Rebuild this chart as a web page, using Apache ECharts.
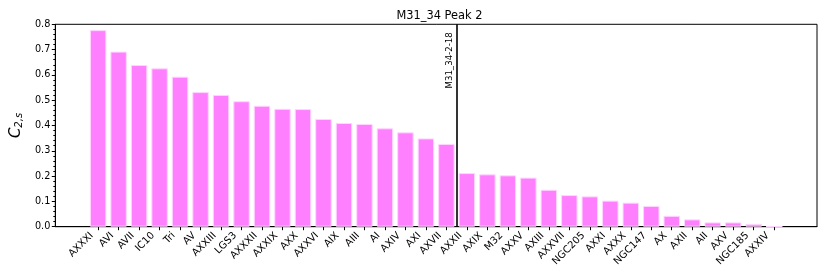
<!DOCTYPE html>
<html>
<head>
<meta charset="utf-8">
<script src="https://cdn.jsdelivr.net/npm/echarts@6/dist/echarts.min.js"></script>
<style>html,body{margin:0;padding:0;background:#fff}#c{width:830px;height:277px}</style>
</head>
<body>
<div id="c"></div>
<script>
const categories = ['AXXXI','AVI','AVII','IC10','Tri','AV','AXXIII','LGS3','AXXXII','AXXIX','AXX','AXXVI','AIX','AIII','AI','AXIV','AXI','AXVII','AXXII','AXIX','M32','AXXV','AXIII','AXXVII','NGC205','AXXI','AXXX','NGC147','AX','AXII','AII','AXV','NGC185','AXXIV'];
const values = [0.777,0.692,0.639,0.626,0.593,0.532,0.521,0.496,0.478,0.466,0.465,0.426,0.410,0.406,0.389,0.373,0.349,0.327,0.212,0.207,0.203,0.194,0.146,0.125,0.120,0.103,0.095,0.082,0.043,0.029,0.017,0.017,0.011,0.001];
const yTicks = [0,0.1,0.2,0.3,0.4,0.5,0.6,0.7,0.8];
const markerPos = 17.5;
const markerLabel = 'M31_34-2-18';
const titleText = 'M31_34 Peak 2';

const W = 830, H = 277;
const gridL = 52, gridR = 13, gridT = 24.3, gridB = 50.3;
const xMin = -2.09, xMax = 35.09;
const bw = 0.8 * (W - gridL - gridR) / (xMax - xMin);
const idx = categories.map((_, i) => i);

const chart = echarts.init(document.getElementById('c'), null, {renderer: 'canvas'});
chart.setOption({
  animation: false,
  backgroundColor: '#fff',
  title: {
    text: titleText, left: (gridL + (W - gridR)) / 2, textAlign: 'center', top: 6,
    textStyle: {fontFamily: 'DejaVu Sans', fontSize: 11.4, fontWeight: 'normal', color: '#000'}
  },
  grid: {left: gridL, right: gridR, top: gridT, bottom: gridB, show: true, borderColor: '#000', borderWidth: 1, backgroundColor: 'transparent'},
  xAxis: {
    type: 'value', min: xMin, max: xMax,
    axisLine: {show: true, onZero: false, lineStyle: {color: '#000', width: 1}},
    axisTick: {show: true, customValues: idx, length: 3.5, lineStyle: {color: '#000'}},
    axisLabel: {
      customValues: idx, rotate: 45, margin: 8, verticalAlign: 'bottom', align: 'right',
      padding: [0, 4, 0, 0],
      fontFamily: 'DejaVu Sans', fontSize: 10, color: '#000',
      formatter: v => categories[Math.round(v)]
    },
    splitLine: {show: false}
  },
  yAxis: {
    type: 'value', min: 0, max: 0.8, interval: 0.1,
    axisLine: {show: true, onZero: false, lineStyle: {color: '#000', width: 1}},
    axisTick: {show: true, length: 3.5, lineStyle: {color: '#000'}},
    minorTick: {show: true, splitNumber: 5, length: 2, lineStyle: {color: '#000'}},
    axisLabel: {fontFamily: 'DejaVu Sans', fontSize: 9.7, color: '#000', margin: 5, formatter: v => v.toFixed(1)},
    splitLine: {show: false},
    name: '{c|C}{s|2,s}', nameLocation: 'middle', nameRotate: 90, nameGap: 29,
    nameTextStyle: {
      rich: {
        c: {fontFamily: 'DejaVu Sans', fontStyle: 'italic', fontSize: 15, color: '#000', lineHeight: 18, verticalAlign: 'bottom'},
        s: {fontFamily: 'DejaVu Sans', fontStyle: 'italic', fontSize: 10, color: '#000', lineHeight: 18, verticalAlign: 'bottom', padding: [6, 0, 0, 0]}
      }
    }
  },
  series: [{
    type: 'bar',
    data: idx.map(i => [i, values[i]]),
    barWidth: bw,
    itemStyle: {color: '#ff80ff', borderColor: '#ffd6ff', borderWidth: 1},
    markLine: {
      silent: true, symbol: 'none',
      lineStyle: {color: '#000', width: 1.6, type: 'solid'},
      label: {show: true, formatter: markerLabel, position: 'insideEndTop', distance: [8, 2], fontFamily: 'DejaVu Sans', fontSize: 8.6, color: '#000'},
      data: [{xAxis: markerPos}]
    }
  }]
});
</script>
</body>
</html>
